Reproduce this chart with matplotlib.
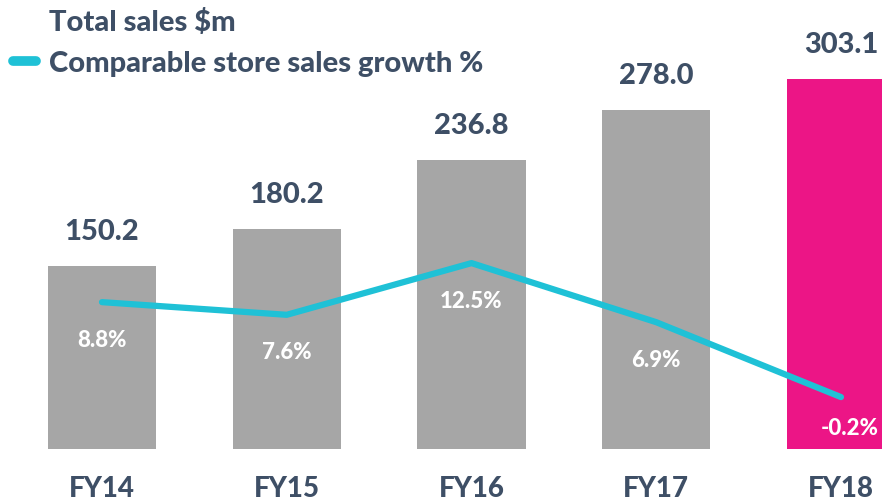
import matplotlib.pyplot as plt
from matplotlib.lines import Line2D
import numpy as np

years = ["FY14", "FY15", "FY16", "FY17", "FY18"]
total_sales = [150.2, 180.2, 236.8, 278.0, 303.1]
comp_growth = [8.8, 7.6, 12.5, 6.9, -0.2]
bar_colors = ["#a6a6a6", "#a6a6a6", "#a6a6a6", "#a6a6a6", "#ec1586"]

text_col = "#3e4f66"
line_col = "#1fc1d6"
plt.rcParams['font.family'] = ['Lato', 'DejaVu Sans']

fig = plt.figure(figsize=(8.82, 5.01), dpi=100)
ax = fig.add_axes([0, 0, 1, 1])
x = np.arange(len(years))

ax.bar(x, total_sales, width=0.585, color=bar_colors, zorder=1)
ax.set_xlim(-0.552, 4.222)
ax.set_ylim(-42.6, 367.7)
ax.axis('off')

# value labels above the bars
for xi, v in zip(x, total_sales):
    ax.annotate(f"{v:.1f}", (xi, v), xytext=(0, 34), textcoords='offset pixels',
                ha='center', va='center', fontsize=21, fontweight='black', color=text_col)

# year labels under the bars
for xi, lab in zip(x, years):
    ax.annotate(lab, (xi, 0), xytext=(0, -40), textcoords='offset pixels',
                ha='center', va='center', fontsize=20, fontweight='black', color=text_col)

ax2 = ax.twinx()
ax2.set_position([0, 0, 1, 1])
ax2.set_ylim(-10.05, 37.44)
ax2.axis('off')
ax2.plot(x, comp_growth, color=line_col, linewidth=4.5, solid_capstyle='round',
         solid_joinstyle='round', zorder=3)

for xi, v in zip(x, comp_growth):
    dx = 9 if v < 0 else 0
    ax2.annotate(f"{v:.1f}%", (xi, v), xytext=(dx, -38 if v >= 0 else -31),
                 textcoords='offset pixels', ha='center', va='center',
                 fontsize=16, fontweight='black', color='white')

handles = [Line2D([], [], color='none'),
           Line2D([], [], color=line_col, linewidth=7, solid_capstyle='round')]
fig.legend(handles, ["Total sales $m", "Comparable store sales growth %"],
           loc='upper left', bbox_to_anchor=(13 / 882, 1 - 9 / 501), frameon=False,
           prop={'size': 21, 'weight': 'black'}, labelcolor=text_col,
           handlelength=0.78, handletextpad=0.45, borderaxespad=0, borderpad=0,
           labelspacing=0.5)

fig.savefig("out.png", dpi=100)
